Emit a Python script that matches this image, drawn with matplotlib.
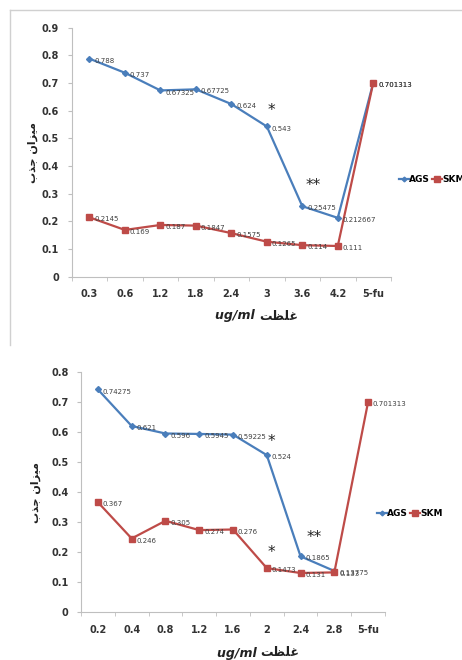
import numpy as np
import matplotlib
matplotlib.use('Agg')
import matplotlib.pyplot as plt
from matplotlib.lines import Line2D

# top chart
top_cats = ['0.3', '0.6', '1.2', '1.8', '2.4', '3', '3.6', '4.2', '5-fu']
top_ags = [0.788, 0.737, 0.67325, 0.67725, 0.624, 0.543, 0.25475, 0.212667, 0.701313]
top_skm = [0.2145, 0.169, 0.187, 0.1847, 0.1575, 0.1265, 0.114, 0.111, 0.701313]

# bottom chart
bot_cats = ['0.2', '0.4', '0.8', '1.2', '1.6', '2', '2.4', '2.8', '5-fu']
bot_ags = [0.74275, 0.621, 0.596, 0.5945, 0.59225, 0.524, 0.1865, 0.13775, np.nan]
bot_skm = [0.367, 0.246, 0.305, 0.274, 0.276, 0.1473, 0.131, 0.133, 0.701313]

# significance marks (category position, value, text)
top_marks = [(5.12, 0.60, '*'), (6.31, 0.33, '**')]
bot_marks = [(5.15, 0.57, '*'), (5.15, 0.20, '*'), (6.39, 0.25, '**')]

# visual order, shaped glyphs
ylab = '\ufe8f\ufeac\ufe9f \ufee5\ufe8d\ufeb0\ufef4\ufee3'   # میزان جذب
xlab_fa = '\ufe96\ufec8\ufee0\ufecf'                         # غلظت

blue = '#4a7ebb'
red = '#be4b48'
W, H = 462.0, 660.0

fig = plt.figure(figsize=(4.62, 6.60), dpi=100)


def px_axes(left, right, top, bottom):
    return fig.add_axes([left / W, 1 - bottom / H, (right - left) / W, (bottom - top) / H])


def draw(ax, cats, ags, skm, ymax, marks, leg_x, leg_y, xl_y, yl_x):
    x = np.arange(len(cats))
    ax.plot(x, ags, color=blue, lw=1.6, marker='D', ms=3, label='AGS', zorder=3)
    ax.plot(x, skm, color=red, lw=1.6, marker='s', ms=5, label='SKM', zorder=3)
    for xs, ys in ((x, ags), (x, skm)):
        for xi, yi in zip(xs, ys):
            if np.isnan(yi):
                continue
            ax.annotate(f'{yi:g}', (xi, yi), xytext=(3.5, -1.5), textcoords='offset points',
                        fontsize=5, color='#404040', va='center', ha='left')
    for mx, my, mt in marks:
        ax.text(mx, my, mt, fontsize=11, color='#222222', ha='center', va='center')
    ax.set_xlim(-0.5, len(cats) - 0.5)
    ax.set_ylim(0, ymax)
    ax.set_yticks(np.arange(0, ymax + 0.001, 0.1))
    ax.set_yticklabels(['0'] + [f'{v:.1f}' for v in np.arange(0.1, ymax + 0.001, 0.1)])
    ax.set_xticks(x)
    ax.set_xticklabels(cats)
    ax.set_xticks(np.arange(-0.5, len(cats), 1.0), minor=True)
    ax.tick_params(axis='x', which='major', length=0, pad=9)
    ax.tick_params(axis='x', which='minor', length=3, color='#bfbfbf', direction='out')
    ax.tick_params(axis='y', length=3, color='#bfbfbf', pad=6)
    for lab in ax.get_xticklabels() + ax.get_yticklabels():
        lab.set_fontsize(7)
        lab.set_fontweight('bold')
        lab.set_color('#333333')
    for s in ('top', 'right'):
        ax.spines[s].set_visible(False)
    for s in ('left', 'bottom'):
        ax.spines[s].set_color('#bfbfbf')
        ax.spines[s].set_linewidth(0.8)
    ax.legend(loc='center left', bbox_to_anchor=((leg_x) / W, 1 - leg_y / H),
              bbox_transform=fig.transFigure, ncol=2, frameon=False,
              handlelength=1.1, columnspacing=0.15, handletextpad=0.05, borderaxespad=0,
              borderpad=0, markerscale=0.8, prop={'weight': 'bold', 'size': 6.5})
    cx = (ax.get_position().x0 + ax.get_position().x1) / 2
    fig.text(cx + 0.06, 1 - xl_y / H, 'ug/ml ', style='italic', fontweight='bold',
             fontsize=9, ha='right', va='center', color='#222222')
    fig.text(cx + 0.06, 1 - xl_y / H, xlab_fa, fontweight='bold', fontsize=9,
             ha='left', va='center', color='#222222')
    fig.text(yl_x / W, (ax.get_position().y0 + ax.get_position().y1) / 2, ylab,
             rotation=90, fontsize=8, fontweight='bold', ha='center', va='center',
             color='#222222')


ax1 = px_axes(71.7, 391, 27.7, 276.7)
draw(ax1, top_cats, top_ags, top_skm, 0.9, top_marks, 399, 180, 316, 33)

ax2 = px_axes(81, 385, 372.3, 612.3)
draw(ax2, bot_cats, bot_ags, bot_skm, 0.8, bot_marks, 377, 514, 653, 36)

# frame of the upper chart
fig.add_artist(Line2D([10 / W, 1], [1 - 10 / H, 1 - 10 / H], color='#d0d0d0', lw=1))
fig.add_artist(Line2D([10 / W, 10 / W], [1 - 10 / H, 1 - 345 / H], color='#d0d0d0', lw=1))

fig.savefig('out.png', dpi=100)
